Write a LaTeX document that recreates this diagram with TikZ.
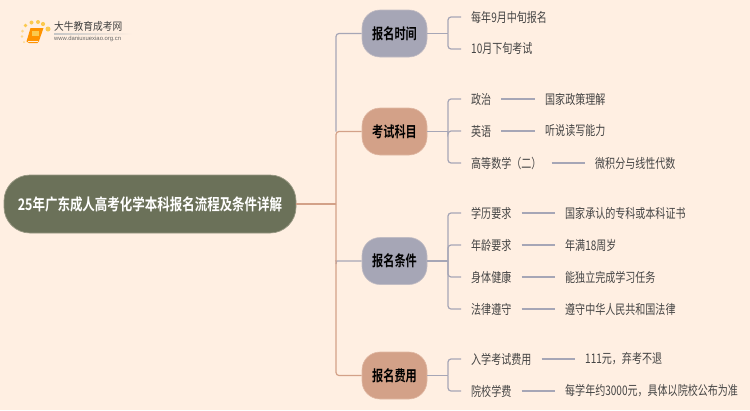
\documentclass[tikz,border=0pt]{standalone}
\usepackage{fontspec}
\setmainfont{Liberation Sans}
\newfontfamily\cjk[FakeStretch=0.76]{Noto Sans CJK SC}
\newfontfamily\cjkb[FakeStretch=0.745]{Noto Sans CJK SC Bold}
\newfontfamily\cjkr[FakeStretch=0.78]{Noto Sans CJK SC Bold}
\newfontfamily\cjklogo[FakeStretch=0.9]{Noto Sans CJK SC}
\definecolor{bg}{HTML}{FFEFE2}
\definecolor{rootc}{HTML}{6B7159}
\definecolor{slate}{HTML}{A6A6B6}
\definecolor{clay}{HTML}{D3A188}
\definecolor{ink}{HTML}{444444}
\definecolor{sun}{HTML}{FBC94E}
\tikzset{
  x=1pt,y=-1pt,
  rootbox/.style={draw=rootc!70!bg,line width=.7pt,fill=rootc,rounded corners=26pt,minimum width=292pt,minimum height=58pt,inner sep=0pt,text=white,font=\cjkr\fontsize{16}{18}\selectfont},
  branchbox/.style={rounded corners=18pt,minimum width=65pt,minimum height=47pt,inner sep=0pt,text=black,font=\cjkb\fontsize{15}{17}\selectfont},
  slatebox/.style={branchbox,fill=slate,draw=slate!70!bg,line width=.6pt},
  claybox/.style={branchbox,fill=clay,draw=clay!70!bg,line width=.6pt},
  leaf/.style={anchor=west,inner sep=0pt,text=ink,font=\cjk\fontsize{13.2}{15}\selectfont},
  slink/.style={draw=slate,line width=1.2pt,rounded corners=3pt},
  clink/.style={draw=clay,line width=1.2pt,rounded corners=3pt},
}
\begin{document}
\begin{tikzpicture}
\useasboundingbox[fill=bg] (0,0) rectangle (750,410);
% logo
\fill[sun] (25.5,25.5) circle (1.8) (31.5,22.5) circle (2) (38,22) circle (2) (43,24) circle (2.1) (48,29) circle (2.5);
\fill[sun!60!bg] (22.5,31) circle (1.5) (22,36.5) circle (1.3) (24,42) circle (1);
\fill[orange!85!yellow] (30.5,28) -- (43.5,28) -- (39,41) -- (37.5,43) -- (29,43) -- (26.5,41.5) -- cycle;
\draw[white!85!orange,line width=.7pt] (28,41) -- (38,41);
\fill[sun] (32,31) rectangle (39,36);
\shade[left color=gray!45,right color=bg] (54,33.3) rectangle (132,34);
\node[anchor=west,inner sep=0pt,text=black!75,font=\cjklogo\fontsize{10.8}{12}\selectfont] (logoname) at (54,26) {大牛教育成考网};
\node[anchor=west,inner sep=0pt,text=black!60,font=\fontsize{5.9}{7}\selectfont] (logourl) at (54,38.5) {www.daniuxuexiao.org.cn};
% main nodes
\node[rootbox] (root) at (150,204) {25年广东成人高考化学本科报名流程及条件详解};
\node[slatebox] (b1) at (394.5,33.5) {报名时间};
\node[claybox] (b2) at (394.5,131.5) {考试科目};
\node[slatebox] (b3) at (394.5,261) {报名条件};
\node[claybox] (b4) at (394.5,375.5) {报名费用};
\coordinate (trunk) at (336,204);
% root connectors
\draw[slink] (b1.west) -| (trunk |- b2.west);
\draw[slink] (b3.west) -- ([xshift=3pt]trunk |- b3.west) to[out=180,in=90] ([yshift=-3pt]trunk |- b3.west);
\draw[clink] (root.east) -- (trunk);
\draw[clink] (b2.west) -| (trunk);
\draw[clink] (trunk) |- (b4.west);
% junctions
\coordinate (j1) at (448,33.5);
\coordinate (j2) at (448,131.5);
\coordinate (j3) at (448,261);
\coordinate (j4) at (448,375.5);
\draw[slink] (b1.east) -- (j1);
\draw[slink] (b2.east) -- (j2);
\draw[slink] (b3.east) -- (j3);
\draw[slink] (b4.east) -- (j4);
% leaves
\node[leaf] (a1) at (471,17) {每年9月中旬报名};
\node[leaf] (a2) at (471,49) {10月下旬考试};
\draw[slink] (j1) |- ([xshift=-10pt]a1.west);
\draw[slink] (j1) |- ([xshift=-10pt]a2.west);
%
\node[leaf] (c1) at (471,99) {政治};
\node[leaf] (c2) at (471,131) {英语};
\node[leaf] (c3) at (471,163) {高等数学（二）};
\node[leaf] (d1) at (545,99) {国家政策理解};
\node[leaf] (d2) at (545,131) {听说读写能力};
\node[leaf] (d3) at (595,163) {微积分与线性代数};
\foreach \n in {1,2,3}{
  \draw[slink] (j2) |- ([xshift=-10pt]c\n.west);
  \draw[slink] ([xshift=10pt]c\n.east) -- ([xshift=-10pt]d\n.west);
}
%
\node[leaf] (e1) at (471,213) {学历要求};
\node[leaf] (e2) at (471,245) {年龄要求};
\node[leaf] (e3) at (471,277) {身体健康};
\node[leaf] (e4) at (471,309) {法律遵守};
\node[leaf] (f1) at (565,213) {国家承认的专科或本科证书};
\node[leaf] (f2) at (565,245) {年满18周岁};
\node[leaf] (f3) at (565,277) {能独立完成学习任务};
\node[leaf] (f4) at (565,309) {遵守中华人民共和国法律};
\foreach \n in {1,2,3,4}{
  \draw[slink] (j3) |- ([xshift=-10pt]e\n.west);
  \draw[slink] ([xshift=10pt]e\n.east) -- ([xshift=-10pt]f\n.west);
}
%
\node[leaf] (g1) at (471,359) {入学考试费用};
\node[leaf] (g2) at (471,391) {院校学费};
\node[leaf] (h1) at (585,359) {111元，弃考不退};
\node[leaf] (h2) at (565,391) {每学年约3000元，具体以院校公布为准};
\foreach \n in {1,2}{
  \draw[slink] (j4) |- ([xshift=-10pt]g\n.west);
  \draw[slink] ([xshift=10pt]g\n.east) -- ([xshift=-10pt]h\n.west);
}
\end{tikzpicture}
\end{document}
